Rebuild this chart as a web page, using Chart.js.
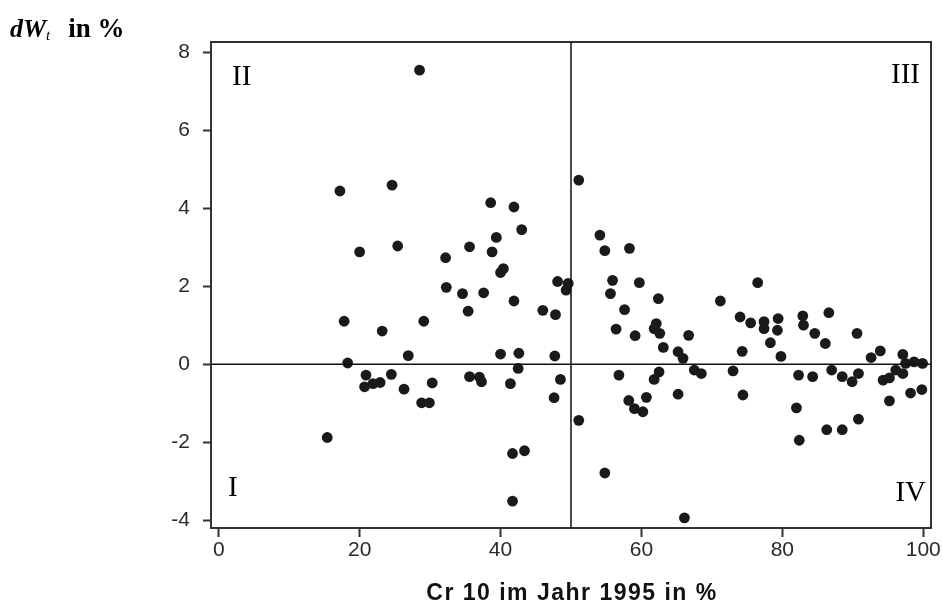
<!DOCTYPE html>
<html>
<head>
<meta charset="utf-8">
<script src="https://cdn.jsdelivr.net/npm/chart.js@4.4.1/dist/chart.umd.min.js"></script>
<style>
  html, body { margin: 0; padding: 0; background: #fff; }
  #wrap { width: 943px; height: 606px; position: relative; }
</style>
</head>
<body>
<div id="wrap"><canvas id="chart"></canvas></div>
<script>
// Cr 10 in 1995 (x, %) and dW_t (y, %)
const concentration = [
  28.5, 17.2, 24.6, 20.0, 25.4, 38.6, 41.9, 43.0, 39.4, 35.6, 38.8, 32.2, 40.0, 40.4, 48.1, 49.6,
  49.3, 32.3, 34.6, 37.6, 41.9, 35.4, 46.0, 47.8, 17.8, 23.2, 29.1, 26.9, 18.3, 40.0, 42.6, 47.7,
  42.5, 48.5, 47.6, 20.9, 20.7, 21.9, 22.9, 24.5, 26.3, 30.3, 28.8, 29.9, 35.6, 37.0, 37.3, 41.4,
  15.4, 41.7, 43.4, 41.7,
  51.1, 54.1, 54.8, 58.3, 55.9, 55.6, 59.7, 62.4, 57.6, 56.4, 59.1, 62.1, 61.8, 62.6, 63.1, 65.2,
  65.9, 66.7, 71.2, 76.5, 74.0, 75.5, 77.4, 77.4, 79.4, 79.3, 78.3, 82.9, 83.0, 84.6, 86.6, 86.1,
  90.6, 74.3, 79.8, 92.6, 93.9, 97.1, 97.5, 98.7, 99.9,
  51.1, 54.8, 56.8, 62.5, 61.8, 58.2, 59.0, 60.2, 60.7, 65.2, 67.5, 68.5, 66.1, 73.0, 74.4, 82.3,
  84.3, 82.0, 82.4, 87.0, 88.5, 89.9, 90.8, 86.3, 88.5, 90.8, 94.3, 95.2, 95.2, 96.1, 97.1, 98.2,
  99.8
]
const change = [
  7.54, 4.44, 4.59, 2.88, 3.03, 4.14, 4.03, 3.45, 3.25, 3.01, 2.88, 2.73, 2.35, 2.45, 2.12, 2.07,
  1.90, 1.97, 1.81, 1.83, 1.62, 1.36, 1.38, 1.27, 1.10, 0.85, 1.10, 0.22, 0.03, 0.26, 0.28, 0.21,
  -0.11, -0.39, -0.86, -0.28, -0.58, -0.50, -0.47, -0.26, -0.64, -0.48, -0.99, -0.99, -0.32, -0.33, -0.45, -0.50,
  -1.88, -2.29, -2.22, -3.51,
  4.72, 3.31, 2.91, 2.97, 2.15, 1.81, 2.09, 1.68, 1.40, 0.90, 0.73, 1.04, 0.91, 0.79, 0.43, 0.32,
  0.15, 0.74, 1.62, 2.09, 1.21, 1.06, 1.09, 0.91, 1.17, 0.87, 0.55, 1.24, 1.00, 0.79, 1.32, 0.53,
  0.79, 0.33, 0.20, 0.17, 0.34, 0.25, 0.02, 0.06, 0.02,
  -1.44, -2.79, -0.28, -0.20, -0.39, -0.93, -1.14, -1.22, -0.85, -0.77, -0.15, -0.24, -3.94, -0.17, -0.79, -0.28,
  -0.32, -1.12, -1.95, -0.15, -0.32, -0.45, -0.24, -1.68, -1.68, -1.41, -0.41, -0.35, -0.94, -0.15, -0.24, -0.74,
  -0.65
]
const xTicks = [0, 20, 40, 60, 80, 100]
const yTicks = [-4, -2, 0, 2, 4, 6, 8]
const quadrantLabels = ["I", "II", "III", "IV"]
const xTitle = "Cr 10 im Jahr 1995 in %"

const ink = "#1a1a1a"

// frame, cross lines at x = 50 / y = 0, quadrant numbers and both titles
const decorations = {
  id: "decorations",
  afterDatasetsDraw(chart) {
    const { ctx, chartArea: a, scales } = chart
    const x50 = scales.x.getPixelForValue(50)
    const y0 = scales.y.getPixelForValue(0)
    ctx.save()
    ctx.strokeStyle = "#333"
    ctx.lineWidth = 2
    ctx.strokeRect(a.left, a.top, a.right - a.left, a.bottom - a.top)
    ctx.lineWidth = 1.5
    ctx.strokeStyle = "#111"
    ctx.beginPath()
    ctx.moveTo(x50, a.top)
    ctx.lineTo(x50, a.bottom)
    ctx.moveTo(a.left, y0)
    ctx.lineTo(a.right, y0)
    ctx.stroke()

    ctx.fillStyle = "#000"
    ctx.font = "29px 'Liberation Serif', 'Times New Roman', serif"
    ctx.textBaseline = "alphabetic"
    ctx.textAlign = "left"
    ctx.fillText(quadrantLabels[1], a.left + 21, a.top + 43)
    ctx.fillText(quadrantLabels[0], a.left + 17, a.bottom - 32)
    ctx.textAlign = "right"
    ctx.fillText(quadrantLabels[2], a.right - 11, a.top + 41)
    ctx.fillText(quadrantLabels[3], a.right - 5, a.bottom - 27)

    // y title: dW_t in %
    ctx.textAlign = "left"
    ctx.font = "bold italic 26px 'Liberation Serif', serif"
    ctx.fillText("dW", 10, 37)
    let x = 10 + ctx.measureText("dW").width
    ctx.font = "italic 15px 'Liberation Serif', serif"
    ctx.fillText("t", x, 40)
    x += ctx.measureText("t").width + 18
    ctx.font = "bold 27px 'Liberation Serif', serif"
    ctx.fillText("in %", x, 37)

    // x title
    ctx.fillStyle = "#111"
    ctx.textAlign = "center"
    ctx.font = "bold 23px 'Liberation Sans', Arial, sans-serif"
    ctx.letterSpacing = "1.5px"
    ctx.fillText(xTitle, (a.left + a.right) / 2 + 1, 600)
    ctx.restore()
  }
}

new Chart(document.getElementById("chart"), {
  type: "scatter",
  data: {
    datasets: [{
      data: concentration.map((c, i) => ({ x: c, y: change[i] })),
      backgroundColor: ink,
      borderColor: ink,
      borderWidth: 0,
      pointRadius: 5.4,
      pointHoverRadius: 5.4
    }]
  },
  options: {
    responsive: true,
    maintainAspectRatio: false,
    animation: false,
    layout: { padding: { top: 42, right: 12, left: 0, bottom: 0 } },
    scales: {
      x: {
        type: "linear",
        min: -1.1,
        max: 101.1,
        afterBuildTicks: scale => { scale.ticks = xTicks.map(v => ({ value: v })) },
        afterFit: scale => { scale.height = 78 },
        grid: { display: true, drawOnChartArea: false, drawTicks: true, tickLength: 9, tickWidth: 2, color: "#333" },
        border: { display: false },
        ticks: { color: "#2a2a2a", padding: 1, maxRotation: 0, font: { family: "'Liberation Sans', Arial, sans-serif", size: 21 } }
      },
      y: {
        type: "linear",
        min: -4.2,
        max: 8.26,
        afterBuildTicks: scale => { scale.ticks = yTicks.map(v => ({ value: v })) },
        afterFit: scale => { scale.width = 211 },
        grid: { display: true, drawOnChartArea: false, drawTicks: true, tickLength: 8, tickWidth: 2, color: "#333" },
        border: { display: false },
        ticks: { color: "#2a2a2a", padding: 13, font: { family: "'Liberation Sans', Arial, sans-serif", size: 21 } }
      }
    },
    plugins: {
      legend: { display: false },
      tooltip: { enabled: false }
    }
  },
  plugins: [decorations]
})
</script>
</body>
</html>
